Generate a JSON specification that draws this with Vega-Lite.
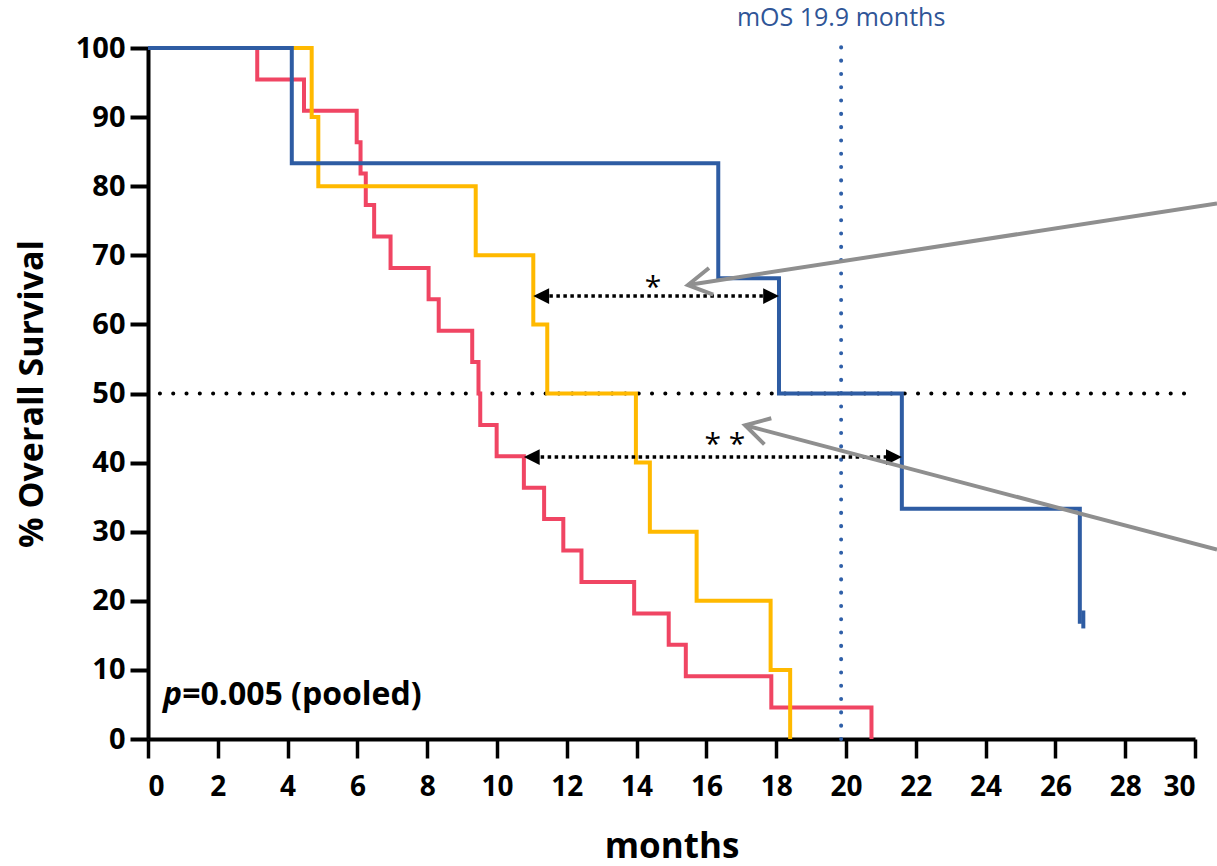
{
  "$schema": "https://vega.github.io/schema/vega-lite/v6.json",
  "width": 1047,
  "height": 691,
  "autosize": "none",
  "padding": {"left": 148, "top": 48, "right": 22, "bottom": 127},
  "background": "white",
  "config": {
    "view": {"stroke": null},
    "font": "Open Sans",
    "axis": {"grid": false, "domainColor": "black", "tickColor": "black", "labelColor": "black", "titleColor": "black", "labelFont": "Open Sans", "titleFont": "Open Sans"}
  },
  "datasets": {
    "curves": [
      {"group": "red", "month": 0, "survival": 100},
      {"group": "red", "month": 3.13, "survival": 95.45},
      {"group": "red", "month": 4.47, "survival": 90.91},
      {"group": "red", "month": 5.98, "survival": 86.36},
      {"group": "red", "month": 6.09, "survival": 81.82},
      {"group": "red", "month": 6.24, "survival": 77.27},
      {"group": "red", "month": 6.48, "survival": 72.73},
      {"group": "red", "month": 6.95, "survival": 68.18},
      {"group": "red", "month": 8.04, "survival": 63.64},
      {"group": "red", "month": 8.33, "survival": 59.09},
      {"group": "red", "month": 9.29, "survival": 54.55},
      {"group": "red", "month": 9.47, "survival": 50},
      {"group": "red", "month": 9.52, "survival": 45.45},
      {"group": "red", "month": 9.99, "survival": 40.91},
      {"group": "red", "month": 10.77, "survival": 36.36},
      {"group": "red", "month": 11.35, "survival": 31.82},
      {"group": "red", "month": 11.9, "survival": 27.27},
      {"group": "red", "month": 12.42, "survival": 22.73},
      {"group": "red", "month": 13.93, "survival": 18.18},
      {"group": "red", "month": 14.92, "survival": 13.64},
      {"group": "red", "month": 15.41, "survival": 9.09},
      {"group": "red", "month": 17.86, "survival": 4.55},
      {"group": "red", "month": 20.73, "survival": 0},
      {"group": "yellow", "month": 0, "survival": 100},
      {"group": "yellow", "month": 4.69, "survival": 90},
      {"group": "yellow", "month": 4.88, "survival": 80},
      {"group": "yellow", "month": 9.39, "survival": 70},
      {"group": "yellow", "month": 11.04, "survival": 60},
      {"group": "yellow", "month": 11.44, "survival": 50},
      {"group": "yellow", "month": 13.98, "survival": 40},
      {"group": "yellow", "month": 14.38, "survival": 30},
      {"group": "yellow", "month": 15.72, "survival": 20},
      {"group": "yellow", "month": 17.84, "survival": 10},
      {"group": "yellow", "month": 18.4, "survival": 0},
      {"group": "blue", "month": 0, "survival": 100},
      {"group": "blue", "month": 4.12, "survival": 83.33},
      {"group": "blue", "month": 16.34, "survival": 66.67},
      {"group": "blue", "month": 18.08, "survival": 50},
      {"group": "blue", "month": 21.6, "survival": 33.33},
      {"group": "blue", "month": 26.7, "survival": 16.67}
    ]
  },
  "layer": [
    {
      "data": {"values": [{"x": 0.34, "x2": 30, "y": 50}]},
      "mark": {"type": "rule", "color": "black", "strokeWidth": 4, "strokeDash": [0.1, 13.2], "strokeCap": "round"},
      "encoding": {
        "x": {"field": "x", "type": "quantitative", "scale": {"domain": [0, 30], "nice": false},
          "axis": {"values": [0,1,2,3,4,5,6,7,8,9,10,11,12,13,14,15,16,17,18,19,20,21,22,23,24,25,26,27,28,29,30],
            "labelExpr": "datum.value % 2 == 0 ? datum.label : ''",
            "tickSize": {"condition": {"test": "datum.value % 2 == 1", "value": 9}, "value": 19},
            "tickWidth": 3.5, "domainWidth": 4, "labelFontSize": 28, "labelFontWeight": "bold", "labelPadding": 15,
            "title": "months", "titleFontSize": 35, "titleFontWeight": "bold", "titlePadding": 28}},
        "x2": {"field": "x2"},
        "y": {"field": "y", "type": "quantitative", "scale": {"domain": [0, 100], "nice": false},
          "axis": {"values": [0,10,20,30,40,50,60,70,80,90,100], "tickSize": 18, "tickWidth": 4, "domainWidth": 4,
            "labelFontSize": 29, "labelFontWeight": "bold", "labelPadding": 5,
            "title": "% Overall Survival", "titleFontSize": 34, "titleFontWeight": "bold", "titlePadding": 26}}
      }
    },
    {
      "data": {"values": [{"x": 19.86, "y": 0, "y2": 101.8}]},
      "mark": {"type": "rule", "color": "#2f5fa8", "strokeWidth": 4, "strokeDash": [0.1, 13.2], "strokeCap": "round"},
      "encoding": {
        "x": {"field": "x", "type": "quantitative"},
        "y": {"field": "y", "type": "quantitative"},
        "y2": {"field": "y2"}
      }
    },
    {
      "data": {"name": "curves"},
      "mark": {"type": "line", "interpolate": "step-after", "strokeWidth": 4, "strokeCap": "butt", "strokeJoin": "miter"},
      "encoding": {
        "x": {"field": "month", "type": "quantitative"},
        "y": {"field": "survival", "type": "quantitative"},
        "color": {"field": "group", "type": "nominal", "legend": null,
          "scale": {"domain": ["red", "yellow", "blue"], "range": ["#f04563", "#ffb900", "#2e5ca3"]}}
      }
    },
    {
      "data": {"values": [{"x": 26.8, "y": 16.0, "y2": 18.6}]},
      "mark": {"type": "rule", "color": "#2e5ca3", "strokeWidth": 4},
      "encoding": {
        "x": {"field": "x", "type": "quantitative"},
        "y": {"field": "y", "type": "quantitative"},
        "y2": {"field": "y2"}
      }
    },
    {
      "data": {"values": [{"x": 11.3, "x2": 17.8, "y": 64.1}, {"x": 11.05, "x2": 21.3, "y": 40.8}]},
      "mark": {"type": "rule", "color": "black", "strokeWidth": 3.5, "strokeDash": [3.5, 3.5]},
      "encoding": {
        "x": {"field": "x", "type": "quantitative"},
        "x2": {"field": "x2"},
        "y": {"field": "y", "type": "quantitative"}
      }
    },
    {
      "data": {"values": [{"x": 11.04, "y": 64.1}, {"x": 10.77, "y": 40.8}]},
      "mark": {"type": "point", "shape": "M0 0 L1 -0.5 L1 0.5 Z", "size": 1000, "filled": true, "color": "black", "opacity": 1, "strokeWidth": 0},
      "encoding": {
        "x": {"field": "x", "type": "quantitative"},
        "y": {"field": "y", "type": "quantitative"}
      }
    },
    {
      "data": {"values": [{"x": 18.08, "y": 64.1}, {"x": 21.6, "y": 40.8}]},
      "mark": {"type": "point", "shape": "M0 0 L-1 -0.5 L-1 0.5 Z", "size": 1000, "filled": true, "color": "black", "opacity": 1, "strokeWidth": 0},
      "encoding": {
        "x": {"field": "x", "type": "quantitative"},
        "y": {"field": "y", "type": "quantitative"}
      }
    },
    {
      "data": {"values": [
        {"arrow": "a1", "x": 30.63, "y": 77.5},
        {"arrow": "a1", "x": 15.47, "y": 65.7},
        {"arrow": "a2", "x": 30.63, "y": 27.4},
        {"arrow": "a2", "x": 17.11, "y": 45.4}
      ]},
      "mark": {"type": "line", "color": "#8f8f8f", "strokeWidth": 4},
      "encoding": {
        "x": {"field": "x", "type": "quantitative"},
        "y": {"field": "y", "type": "quantitative"},
        "detail": {"field": "arrow"}
      }
    },
    {
      "data": {"values": [{"x": 15.47, "y": 65.7, "angle": 351}, {"x": 17.11, "y": 45.4, "angle": 14.8}]},
      "mark": {"type": "point", "shape": "M0.87 -0.5 L0 0 L0.87 0.5", "size": 2916, "filled": false, "color": "#8f8f8f", "opacity": 1, "strokeWidth": 4, "strokeJoin": "miter"},
      "encoding": {
        "x": {"field": "x", "type": "quantitative"},
        "y": {"field": "y", "type": "quantitative"},
        "angle": {"field": "angle", "type": "quantitative", "scale": null}
      }
    },
    {
      "data": {"values": [{"x": 14.47, "y": 65.3, "label": "*"}, {"x": 16.53, "y": 42.6, "label": "* *"}]},
      "mark": {"type": "text", "fontSize": 30, "color": "black", "baseline": "middle", "align": "center"},
      "encoding": {
        "x": {"field": "x", "type": "quantitative"},
        "y": {"field": "y", "type": "quantitative"},
        "text": {"field": "label"}
      }
    },
    {
      "data": {"values": [{"x": 19.86, "y": 104.3, "label": "mOS 19.9 months"}]},
      "mark": {"type": "text", "fontSize": 25, "color": "#2f5597", "baseline": "middle", "align": "center"},
      "encoding": {
        "x": {"field": "x", "type": "quantitative"},
        "y": {"field": "y", "type": "quantitative"},
        "text": {"field": "label"}
      }
    },
    {
      "data": {"values": [{"x": 0.43, "y": 6.4, "label": "p"}]},
      "mark": {"type": "text", "fontSize": 32, "fontWeight": "bold", "fontStyle": "italic", "color": "black", "baseline": "middle", "align": "left"},
      "encoding": {
        "x": {"field": "x", "type": "quantitative"},
        "y": {"field": "y", "type": "quantitative"},
        "text": {"field": "label"}
      }
    },
    {
      "data": {"values": [{"x": 0.98, "y": 6.4, "label": "=0.005 (pooled)"}]},
      "mark": {"type": "text", "fontSize": 32, "fontWeight": "bold", "color": "black", "baseline": "middle", "align": "left"},
      "encoding": {
        "x": {"field": "x", "type": "quantitative"},
        "y": {"field": "y", "type": "quantitative"},
        "text": {"field": "label"}
      }
    }
  ]
}
